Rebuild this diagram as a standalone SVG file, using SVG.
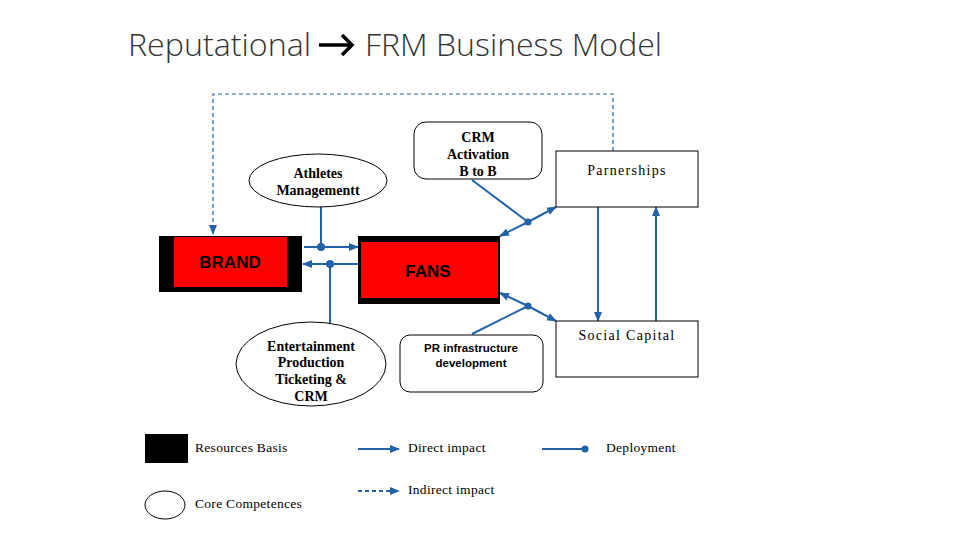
<svg xmlns="http://www.w3.org/2000/svg" width="960" height="540" viewBox="0 0 960 540">
<style>
.conn{stroke:#2262a8;stroke-width:2;fill:none}
.dash{stroke:#2262a8;stroke-width:1.2;fill:none;stroke-dasharray:4 3}
.box{fill:#fff;stroke:#000;stroke-width:1}
.tb{font-family:"Liberation Serif",serif;font-weight:bold;font-size:14px;fill:#000;text-anchor:middle}
.tr{font-family:"Liberation Serif",serif;font-size:14px;fill:#000;letter-spacing:1.3px;text-anchor:middle}
.lg{font-family:"Liberation Serif",serif;font-size:13.5px;fill:#000;letter-spacing:0.3px}
.ab{font-family:"Liberation Sans",Arial,sans-serif;font-weight:bold;fill:#000;text-anchor:middle}
.title{font-family:"Open Sans","Liberation Sans",sans-serif;font-weight:300;font-size:32px;fill:#333}
</style>
<defs>
<marker id="arr" markerUnits="userSpaceOnUse" markerWidth="10" markerHeight="10" viewBox="0 0 10 10" refX="9" refY="5" orient="auto">
<path d="M0,1 L10,5 L0,9 Z" fill="#2262a8"/>
</marker>
</defs>
<rect width="960" height="540" fill="#fff"/>
<g id="title">
<text class="title" x="128" y="56" textLength="183" lengthAdjust="spacingAndGlyphs">Reputational</text>
<path d="M319,45 H352 M342,35 L352,45 L342,55" stroke="#000" stroke-width="3.5" fill="none" stroke-linejoin="miter"/>
<text class="title" x="365" y="56" textLength="297" lengthAdjust="spacingAndGlyphs">FRM Business Model</text>
</g>
<g id="connectors">
<polyline class="dash" points="613,151 613,94 213,94 213,234" marker-end="url(#arr)"/>
<line class="conn" x1="321" y1="207" x2="321" y2="247"/>
<line class="conn" x1="304" y1="247" x2="358" y2="247" marker-end="url(#arr)"/>
<circle cx="321" cy="247" r="4" fill="#2262a8"/>
<line class="conn" x1="358" y1="264" x2="303" y2="264" marker-end="url(#arr)"/>
<line class="conn" x1="330" y1="264" x2="330" y2="323"/>
<circle cx="330" cy="264" r="4" fill="#2262a8"/>
<line class="conn" x1="472" y1="180" x2="528" y2="222"/>
<line class="conn" x1="528" y1="222" x2="556" y2="207" marker-end="url(#arr)"/>
<line class="conn" x1="528" y1="222" x2="500" y2="236" marker-end="url(#arr)"/>
<circle cx="528" cy="222" r="3.5" fill="#2262a8"/>
<line class="conn" x1="472" y1="334" x2="528" y2="306"/>
<line class="conn" x1="528" y1="306" x2="500" y2="293" marker-end="url(#arr)"/>
<line class="conn" x1="528" y1="306" x2="556" y2="321" marker-end="url(#arr)"/>
<circle cx="528" cy="306" r="3.5" fill="#2262a8"/>
<line class="conn" x1="598" y1="207" x2="598" y2="321" marker-end="url(#arr)"/>
<line class="conn" x1="656" y1="321" x2="656" y2="207" marker-end="url(#arr)"/>
</g>
<g id="athletes">
<ellipse class="box" cx="318" cy="180.5" rx="69" ry="26.5"/>
<text class="tb" x="318" y="178">Athletes</text>
<text class="tb" x="318" y="195">Managementt</text>
</g>
<g id="crm">
<rect class="box" x="414" y="122" width="128" height="57" rx="12"/>
<text class="tb" x="478" y="142">CRM</text>
<text class="tb" x="478" y="159">Activation</text>
<text class="tb" x="478" y="176">B to B</text>
</g>
<g id="partnerships">
<rect class="box" x="556" y="151" width="142" height="56"/>
<text class="tr" x="627" y="175">Parnerships</text>
</g>
<g id="brand">
<rect x="159" y="236" width="143" height="56" fill="#000"/>
<rect x="174" y="237" width="113" height="50" fill="#ff0000"/>
<text class="ab" x="230" y="268" font-size="17">BRAND</text>
</g>
<g id="fans">
<rect x="358" y="236" width="142" height="68" fill="#000"/>
<rect x="361" y="242" width="137" height="56" fill="#ff0000"/>
<text class="ab" x="428" y="277" font-size="17">FANS</text>
</g>
<g id="entertainment">
<ellipse class="box" cx="311" cy="364" rx="75" ry="42"/>
<text class="tb" x="311" y="351">Entertainment</text>
<text class="tb" x="311" y="367">Production</text>
<text class="tb" x="311" y="384">Ticketing &amp;</text>
<text class="tb" x="311" y="401">CRM</text>
</g>
<g id="pr">
<rect class="box" x="400" y="335" width="143" height="57" rx="10"/>
<text class="ab" x="471" y="352" font-size="11.5">PR infrastructure</text>
<text class="ab" x="471" y="367" font-size="11.5">development</text>
</g>
<g id="social">
<rect class="box" x="556" y="321" width="142" height="56"/>
<text class="tr" x="627" y="340">Social Capital</text>
</g>
<g id="legend">
<rect x="145" y="434" width="43" height="29" fill="#000"/>
<text class="lg" x="195" y="452">Resources Basis</text>
<ellipse class="box" cx="165" cy="505" rx="20" ry="14"/>
<text class="lg" x="195" y="508">Core Competences</text>
<line class="conn" x1="358" y1="449" x2="399" y2="449" marker-end="url(#arr)"/>
<text class="lg" x="408" y="452">Direct impact</text>
<line class="dash" x1="358" y1="491" x2="399" y2="491" marker-end="url(#arr)" style="stroke-width:2"/>
<text class="lg" x="408" y="494">Indirect impact</text>
<line class="conn" x1="542" y1="449" x2="585" y2="449"/>
<circle cx="585" cy="449" r="3.5" fill="#2262a8"/>
<text class="lg" x="606" y="452">Deployment</text>
</g>
</svg>
